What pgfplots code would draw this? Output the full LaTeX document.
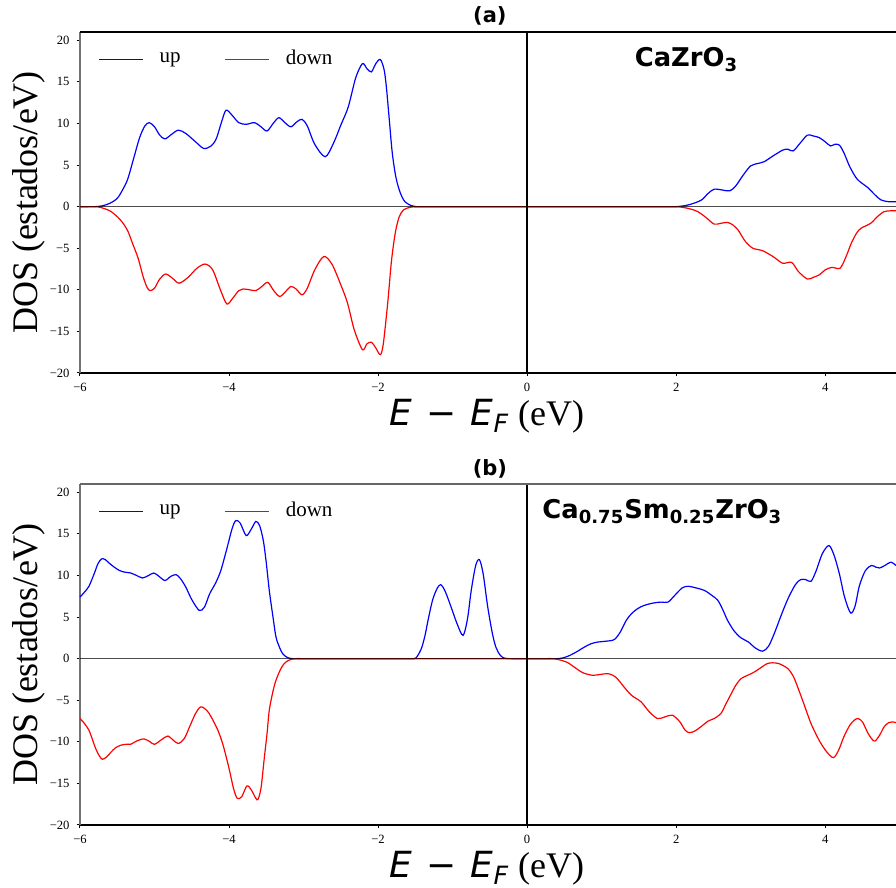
\documentclass[border=0pt]{standalone}
\usepackage{fontspec}
\setmainfont{Liberation Serif}
\newfontfamily\djv{DejaVu Sans}
\usepackage{xcolor}
\usepackage{pgfplots}
\pgfplotsset{compat=1.18}

\pgfplotsset{
  dosax/.style={
    scale only axis, width=408pt, height=170.5pt,
    xmin=-6, xmax=4.95, ymin=-20, ymax=21,
    clip=false,
    axis x line*=bottom, axis y line*=left,
    x axis line style={black, line width=0.6pt},
    y axis line style={black!55, line width=0.9pt},
    xtick={-6,-4,-2,0,2,4}, xticklabels={−6,−4,−2,0,2,4},
    ytick={-20,-15,-10,-5,0,5,10,15,20},
    yticklabels={−20,−15,−10,−5,0,5,10,15,20},
    tick align=outside, major tick length=1.7pt,
    tick style={black, line width=0.5pt},
    tick label style={font=\fontsize{6.3}{7}\selectfont},
    legend columns=2,
    legend cell align=left,
    legend style={draw=none, fill=none, at={(axis description cs:0,1)},
      anchor=north west, xshift=6pt, yshift=-5pt,
      font=\fontsize{10.5}{12}\selectfont,
      /tikz/every odd column/.append style={column sep=6pt},
      /tikz/every even column/.append style={column sep=20pt}},
  },
  up/.style={draw=blue, line width=0.6pt, smooth, tension=0.5, mark=none,
    legend image code/.code={\color{blue}\pgfsetstrokecolor{blue}\pgfsetlinewidth{0.6pt}%
      \pgfpathmoveto{\pgfqpoint{0pt}{0pt}}\pgfpathlineto{\pgfqpoint{22pt}{0pt}}\pgfusepath{stroke}}},
  dn/.style={draw=red, line width=0.6pt, smooth, tension=0.5, mark=none,
    legend image code/.code={\color{red}\pgfsetstrokecolor{red}\pgfsetlinewidth{0.6pt}%
      \pgfpathmoveto{\pgfqpoint{0pt}{0pt}}\pgfpathlineto{\pgfqpoint{22pt}{0pt}}\pgfusepath{stroke}}},
}

\newcommand{\xlab}{{\djv\itshape E}\hspace{7pt}{\djv −}\hspace{7pt}{\djv\itshape E\textsubscript{F}} (eV)}

\begin{document}
\begin{tikzpicture}
% ---- (a) CaZrO3 ----
\begin{axis}[dosax]
\addplot[up] coordinates {(-6,0) (-5.9,0) (-5.8,0) (-5.7,0.1) (-5.6,0.4) (-5.5,1.0) (-5.43,2.0) (-5.36,3.3) (-5.28,5.8) (-5.2,8.3) (-5.13,9.7) (-5.07,10.1) (-5.0,9.6) (-4.93,8.6) (-4.86,8.15) (-4.77,8.7) (-4.68,9.2) (-4.58,8.8) (-4.45,7.8) (-4.34,7.0) (-4.24,7.3) (-4.17,8.2) (-4.1,10.2) (-4.04,11.6) (-3.96,11.0) (-3.87,10.1) (-3.77,9.9) (-3.66,10.1) (-3.57,9.6) (-3.49,9.1) (-3.4,10.1) (-3.33,10.7) (-3.25,10.1) (-3.17,9.6) (-3.09,10.2) (-3.02,10.5) (-2.95,9.7) (-2.85,7.5) (-2.71,6.0) (-2.6,7.6) (-2.5,9.8) (-2.4,12.0) (-2.3,15.5) (-2.21,17.2) (-2.15,16.6) (-2.09,16.2) (-2.03,17.2) (-1.97,17.7) (-1.92,16.5) (-1.89,14.5) (-1.85,10.5) (-1.81,6.5) (-1.76,3.5) (-1.7,1.6) (-1.64,0.6) (-1.56,0.15) (-1.48,0) (-1.4,0) (-1.3,0) (1.8,0) (1.9,0) (2.0,0) (2.1,0.1) (2.2,0.3) (2.34,0.8) (2.43,1.6) (2.51,2.1) (2.62,2.0) (2.72,1.9) (2.8,2.5) (2.9,3.8) (3.0,4.9) (3.1,5.2) (3.18,5.4) (3.3,6.1) (3.43,6.8) (3.5,6.9) (3.57,6.7) (3.66,7.6) (3.76,8.6) (3.84,8.5) (3.92,8.3) (4.0,7.8) (4.07,7.3) (4.13,7.5) (4.19,7.4) (4.25,6.5) (4.33,4.8) (4.43,3.3) (4.57,2.3) (4.67,1.4) (4.75,0.8) (4.85,0.6) (4.95,0.6)};
\addlegendentry{up}
\addplot[dn] coordinates {(-6,0) (-5.9,0) (-5.8,0) (-5.72,-0.1) (-5.6,-0.5) (-5.5,-1.2) (-5.43,-1.9) (-5.36,-2.9) (-5.3,-4.3) (-5.22,-6.2) (-5.15,-8.5) (-5.1,-9.7) (-5.06,-10.1) (-5.0,-9.8) (-4.93,-8.7) (-4.85,-8.1) (-4.76,-8.6) (-4.67,-9.2) (-4.55,-8.5) (-4.43,-7.4) (-4.32,-6.9) (-4.22,-7.6) (-4.12,-9.9) (-4.03,-11.7) (-3.95,-11.0) (-3.87,-10.1) (-3.81,-9.9) (-3.72,-10.0) (-3.64,-10.1) (-3.56,-9.6) (-3.48,-9.1) (-3.4,-10.1) (-3.32,-10.8) (-3.24,-10.2) (-3.17,-9.6) (-3.1,-9.9) (-3.02,-10.6) (-2.95,-9.8) (-2.85,-7.6) (-2.73,-6.0) (-2.62,-6.9) (-2.5,-9.4) (-2.41,-11.6) (-2.32,-14.8) (-2.21,-17.2) (-2.15,-16.5) (-2.09,-16.3) (-2.03,-17.0) (-1.97,-17.8) (-1.93,-16.5) (-1.87,-11.5) (-1.82,-6.5) (-1.77,-3.2) (-1.72,-1.3) (-1.66,-0.4) (-1.58,-0.1) (-1.5,0) (-1.4,0) (-1.3,0) (1.8,0) (1.9,0) (2.0,0) (2.1,-0.1) (2.2,-0.3) (2.29,-0.6) (2.4,-1.3) (2.51,-2.1) (2.6,-2.0) (2.69,-1.9) (2.76,-2.2) (2.83,-2.8) (2.93,-4.2) (3.03,-5.0) (3.16,-5.3) (3.3,-6.0) (3.43,-6.8) (3.55,-6.7) (3.64,-7.8) (3.76,-8.7) (3.84,-8.5) (3.92,-8.2) (4.0,-7.6) (4.09,-7.3) (4.2,-7.4) (4.28,-6.0) (4.35,-4.4) (4.42,-3.2) (4.48,-2.6) (4.61,-2.0) (4.7,-1.2) (4.79,-0.6) (4.88,-0.5) (4.95,-0.5)};
\addlegendentry{down}
\draw[black, opacity=0.7, line width=0.5pt] (axis cs:-6,0) -- (axis cs:4.95,0);
\draw[black, line width=0.8pt] (axis cs:0,-20) -- (axis cs:0,21);
\draw[black, line width=0.6pt] (axis cs:-6,21) -- (axis cs:4.95,21);
\node[anchor=base, font=\djv\bfseries\fontsize{10.5}{12}\selectfont] at ([yshift=4.5pt]axis cs:-0.5,21) {(a)};
\node[anchor=base west, inner sep=0pt, font=\djv\bfseries\fontsize{12.9}{15}\selectfont] at (axis cs:1.44,16.9) {CaZrO\textsubscript{3}};
\node[rotate=90, anchor=base, font=\fontsize{18}{20}\selectfont] at ([xshift=-21pt]axis description cs:0,0.5) {DOS (estados/eV)};
\node[anchor=base, font=\fontsize{18}{20}\selectfont] at ([xshift=-1.5pt, yshift=-26.5pt]axis description cs:0.5025,0) {\xlab};
\end{axis}

% ---- (b) Ca0.75Sm0.25ZrO3 ----
\begin{axis}[dosax, at={(0pt,-226pt)}]
\addplot[up] coordinates {(-6,7.4) (-5.94,8.0) (-5.88,8.7) (-5.81,10.2) (-5.76,11.4) (-5.71,12.0) (-5.66,11.9) (-5.61,11.5) (-5.54,11.0) (-5.47,10.6) (-5.4,10.4) (-5.32,10.3) (-5.24,10.0) (-5.16,9.7) (-5.08,10.0) (-5.01,10.3) (-4.94,9.9) (-4.86,9.4) (-4.78,9.9) (-4.71,10.1) (-4.65,9.6) (-4.58,8.6) (-4.5,7.1) (-4.4,5.8) (-4.33,6.2) (-4.26,7.8) (-4.18,9.1) (-4.11,10.6) (-4.03,13.2) (-3.96,15.6) (-3.91,16.6) (-3.85,16.3) (-3.77,14.8) (-3.7,15.6) (-3.64,16.5) (-3.59,16.0) (-3.54,14.2) (-3.5,11.5) (-3.46,8.2) (-3.41,5.0) (-3.37,2.6) (-3.32,1.3) (-3.28,0.6) (-3.22,0.15) (-3.15,0) (-3.05,0) (-2.95,0) (-1.75,0) (-1.65,0) (-1.55,0) (-1.49,0.1) (-1.42,1.2) (-1.37,2.8) (-1.33,4.6) (-1.27,7.0) (-1.21,8.4) (-1.16,8.9) (-1.1,8.1) (-1.02,6.2) (-0.94,4.2) (-0.86,2.8) (-0.8,4.8) (-0.75,8.2) (-0.69,11.2) (-0.64,11.9) (-0.59,10.2) (-0.53,6.3) (-0.47,3.2) (-0.42,1.4) (-0.36,0.4) (-0.3,0.05) (-0.2,0) (-0.1,0) (0.2,0) (0.3,0) (0.4,0) (0.46,0.05) (0.55,0.3) (0.66,0.8) (0.77,1.4) (0.86,1.8) (0.95,2.0) (1.06,2.1) (1.17,2.3) (1.25,3.2) (1.33,4.6) (1.4,5.4) (1.48,6.0) (1.57,6.4) (1.7,6.7) (1.8,6.8) (1.89,6.8) (1.98,7.6) (2.08,8.5) (2.16,8.7) (2.27,8.5) (2.38,8.2) (2.48,7.6) (2.56,7.0) (2.63,5.8) (2.69,4.6) (2.78,3.3) (2.87,2.5) (2.97,2.0) (3.06,1.3) (3.16,0.9) (3.24,1.5) (3.32,3.1) (3.4,5.0) (3.5,7.2) (3.6,8.9) (3.67,9.5) (3.74,9.5) (3.81,9.3) (3.88,10.6) (3.96,12.6) (4.05,13.6) (4.12,12.4) (4.19,10.2) (4.26,7.4) (4.34,5.5) (4.4,6.3) (4.46,8.8) (4.54,10.6) (4.62,11.2) (4.68,11.0) (4.73,10.9) (4.8,11.2) (4.88,11.6) (4.95,11.2)};
\addlegendentry{up}
\addplot[dn] coordinates {(-6,-7.2) (-5.94,-7.8) (-5.88,-8.6) (-5.83,-9.8) (-5.79,-10.8) (-5.74,-11.7) (-5.7,-12.1) (-5.64,-11.8) (-5.58,-11.2) (-5.52,-10.7) (-5.45,-10.4) (-5.38,-10.3) (-5.32,-10.3) (-5.24,-9.9) (-5.14,-9.65) (-5.06,-10.0) (-5.0,-10.3) (-4.9,-9.7) (-4.82,-9.3) (-4.75,-9.8) (-4.68,-10.2) (-4.6,-9.6) (-4.53,-8.2) (-4.45,-6.6) (-4.38,-5.8) (-4.3,-6.2) (-4.24,-7.0) (-4.15,-8.6) (-4.08,-10.4) (-4.0,-13.2) (-3.94,-15.6) (-3.89,-16.8) (-3.83,-16.6) (-3.76,-15.3) (-3.7,-15.8) (-3.64,-16.8) (-3.61,-16.9) (-3.57,-15.5) (-3.53,-12.2) (-3.49,-9.0) (-3.46,-6.2) (-3.41,-3.9) (-3.37,-2.6) (-3.31,-1.3) (-3.26,-0.6) (-3.2,-0.2) (-3.12,0) (-3.02,0) (-2.92,0) (0.15,0) (0.25,0) (0.35,0) (0.46,-0.2) (0.55,-0.5) (0.63,-1.0) (0.75,-1.7) (0.88,-2.0) (0.98,-1.9) (1.08,-1.8) (1.15,-2.0) (1.21,-2.4) (1.3,-3.4) (1.4,-4.4) (1.53,-5.2) (1.64,-6.4) (1.75,-7.2) (1.85,-7.0) (1.95,-6.8) (2.05,-7.6) (2.12,-8.6) (2.18,-8.9) (2.25,-8.7) (2.33,-8.2) (2.43,-7.5) (2.51,-7.2) (2.6,-6.6) (2.67,-5.4) (2.74,-4.2) (2.8,-3.2) (2.87,-2.4) (2.96,-2.0) (3.05,-1.6) (3.15,-1.0) (3.22,-0.6) (3.29,-0.5) (3.38,-0.6) (3.5,-1.2) (3.57,-2.1) (3.63,-3.4) (3.72,-5.6) (3.8,-7.6) (3.85,-8.6) (3.93,-10.0) (4.02,-11.2) (4.11,-11.9) (4.18,-11.0) (4.25,-9.4) (4.33,-8.0) (4.39,-7.4) (4.44,-7.2) (4.5,-7.6) (4.57,-8.9) (4.63,-9.7) (4.67,-9.9) (4.73,-9.2) (4.79,-8.2) (4.85,-7.7) (4.9,-7.6) (4.95,-7.7)};
\addlegendentry{down}
\draw[black, opacity=0.7, line width=0.5pt] (axis cs:-6,0) -- (axis cs:4.95,0);
\draw[black, line width=0.8pt] (axis cs:0,-20) -- (axis cs:0,21);
\draw[black!60, line width=0.6pt] (axis cs:-6,21) -- (axis cs:4.95,21);
\node[anchor=base, font=\djv\bfseries\fontsize{10.5}{12}\selectfont] at ([yshift=4.5pt]axis cs:-0.5,21) {(b)};
\node[anchor=base west, inner sep=0pt, font=\djv\bfseries\fontsize{12.9}{15}\selectfont] at (axis cs:0.2,16.9) {Ca\textsubscript{0.75}Sm\textsubscript{0.25}ZrO\textsubscript{3}};
\node[rotate=90, anchor=base, font=\fontsize{18}{20}\selectfont] at ([xshift=-21pt]axis description cs:0,0.5) {DOS (estados/eV)};
\node[anchor=base, font=\fontsize{18}{20}\selectfont] at ([xshift=-1.5pt, yshift=-26.5pt]axis description cs:0.5025,0) {\xlab};
\end{axis}
\pgfresetboundingbox
\path[use as bounding box] (-40pt,-257.5pt) rectangle (408pt,186.5pt);
\end{tikzpicture}
\end{document}
